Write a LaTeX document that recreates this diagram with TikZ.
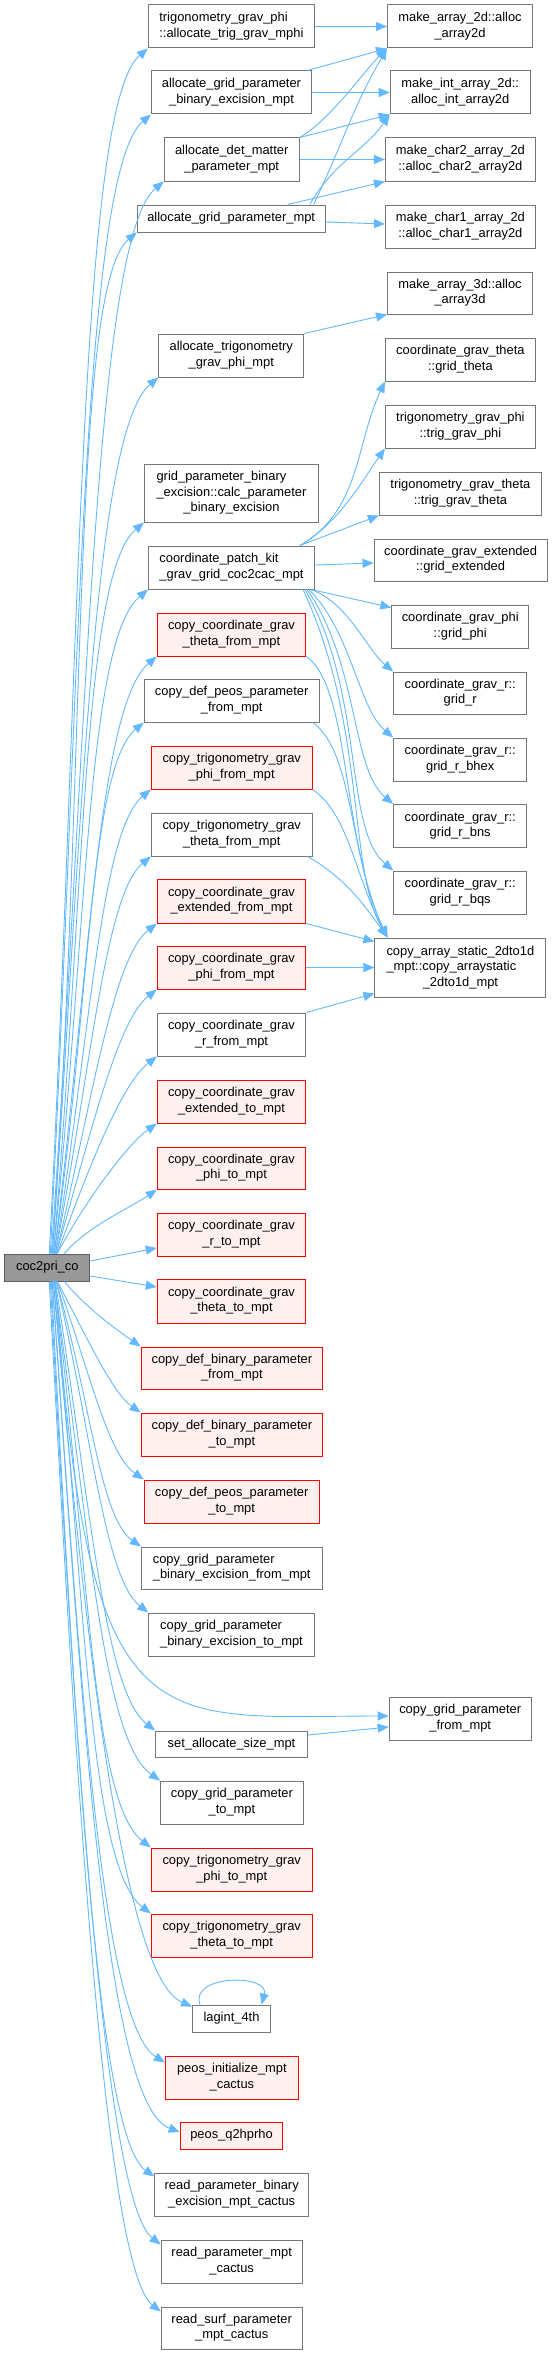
\documentclass[tikz,border=0pt]{standalone}
\usepackage{fontspec}
\setmainfont{Liberation Sans}
\usetikzlibrary{arrows.meta,calc}
\definecolor{edgeblue}{HTML}{63B8FF}
\definecolor{nodeborder}{HTML}{777777}
\definecolor{redfill}{HTML}{FFF0F0}
\definecolor{redborder}{HTML}{FF0000}
\definecolor{rootfill}{HTML}{999999}
\newcommand\lnA[2]{\begin{tabular}{@{}l@{}}#1\\\multicolumn{1}{@{}c@{}}{#2}\end{tabular}}
\newcommand\lnB[3]{\begin{tabular}{@{}l@{}}#1\\#2\\\multicolumn{1}{@{}c@{}}{#3}\end{tabular}}
% curved connector: start, out angle, out distance, end, in angle, in distance
\newcommand\edgecurve[6]{\draw[edge] (#1) .. controls ($(#1)+(#2:#3)$) and ($(#4)+(#5:#6)$) .. (#4);}
\tikzset{
  box/.style={draw=nodeborder, fill=white, line width=1pt, inner sep=0pt,
    font=\fontsize{12.9}{15.5}\selectfont},
  redbox/.style={box, draw=redborder, fill=redfill},
  rootbox/.style={box, draw=nodeborder!80!black, fill=rootfill},
  edge/.style={draw=edgeblue, line width=0.9pt, -{Triangle[length=11pt,width=9pt]}},
}
\begin{document}
\begin{tikzpicture}[x=1pt,y=1pt]
\useasboundingbox (0,0) rectangle (553,-2355);
% root
\node[rootbox, minimum width=85pt, minimum height=27pt] (root) at (47.3,-1267.5) {coc2pri\_co};
% right column
\node[box, minimum width=145pt, minimum height=43pt] (aa2d) at (460,-26.5) {\lnA{make\_array\_2d::alloc}{\_array2d}};
\node[box, minimum width=140pt, minimum height=43pt] (ai2d) at (460.2,-92.5) {\lnA{make\_int\_array\_2d::}{alloc\_int\_array2d}};
\node[box, minimum width=150pt, minimum height=43pt] (ac2d) at (460.4,-159.5) {\lnA{make\_char2\_array\_2d}{::alloc\_char2\_array2d}};
\node[box, minimum width=150pt, minimum height=43pt] (ac1d) at (460.4,-226.5) {\lnA{make\_char1\_array\_2d}{::alloc\_char1\_array2d}};
\node[box, minimum width=145pt, minimum height=42pt] (aa3d) at (460,-293) {\lnA{make\_array\_3d::alloc}{\_array3d}};
\node[box, minimum width=150pt, minimum height=43pt] (gth) at (460.4,-359.5) {\lnA{coordinate\_grav\_theta}{::grid\_theta}};
\node[box, minimum width=150pt, minimum height=43pt] (tgp) at (460.4,-426.5) {\lnA{trigonometry\_grav\_phi}{::trig\_grav\_phi}};
\node[box, minimum width=162pt, minimum height=43pt] (tgt) at (460.4,-493.5) {\lnA{trigonometry\_grav\_theta}{::trig\_grav\_theta}};
\node[box, minimum width=173pt, minimum height=42pt] (gext) at (460.6,-560) {\lnA{coordinate\_grav\_extended}{::grid\_extended}};
\node[box, minimum width=137pt, minimum height=43pt] (gphi) at (460.2,-626.5) {\lnA{coordinate\_grav\_phi}{::grid\_phi}};
\node[box, minimum width=133pt, minimum height=42pt] (gr) at (460.2,-693) {\lnA{coordinate\_grav\_r::}{grid\_r}};
\node[box, minimum width=133pt, minimum height=43pt] (grbhex) at (460.2,-759.5) {\lnA{coordinate\_grav\_r::}{grid\_r\_bhex}};
\node[box, minimum width=133pt, minimum height=43pt] (grbns) at (460.2,-826) {\lnA{coordinate\_grav\_r::}{grid\_r\_bns}};
\node[box, minimum width=133pt, minimum height=43pt] (grbqs) at (460.2,-892.5) {\lnA{coordinate\_grav\_r::}{grid\_r\_bqs}};
\node[box, minimum width=171pt, minimum height=59pt] (cas) at (460.4,-967.5) {\lnB{copy\_array\_static\_2dto1d}{\_mpt::copy\_arraystatic}{\_2dto1d\_mpt}};
\node[box, minimum width=142pt, minimum height=43pt] (cgpf) at (460.2,-1718.5) {\lnA{copy\_grid\_parameter}{\_from\_mpt}};
% middle column
\node[box, minimum width=166pt, minimum height=43pt] (atgm) at (231.4,-26.5) {\lnA{trigonometry\_grav\_phi}{::allocate\_trig\_grav\_mphi}};
\node[box, minimum width=160pt, minimum height=43pt] (agpbe) at (231.5,-92.5) {\lnA{allocate\_grid\_parameter}{\_binary\_excision\_mpt}};
\node[box, minimum width=135pt, minimum height=43pt] (admp) at (231.7,-159.5) {\lnA{allocate\_det\_matter}{\_parameter\_mpt}};
\node[box, minimum width=188pt, minimum height=27pt] (agpm) at (231.2,-218.5) {allocate\_grid\_parameter\_mpt};
\node[box, minimum width=145pt, minimum height=43pt] (atgpm) at (231.3,-355.5) {\lnA{allocate\_trigonometry}{\_grav\_phi\_mpt}};
\node[box, minimum width=174pt, minimum height=58pt] (calc) at (231.5,-493) {\lnB{grid\_parameter\_binary}{\_excision::calc\_parameter}{\_binary\_excision}};
\node[box, minimum width=166pt, minimum height=43pt] (cpk) at (231.5,-567.5) {\lnA{coordinate\_patch\_kit}{\_grav\_grid\_coc2cac\_mpt}};
\node[redbox, minimum width=148.5pt, minimum height=43pt] (ccgtf) at (231.5,-634.5) {\lnA{copy\_coordinate\_grav}{\_theta\_from\_mpt}};
\node[box, minimum width=175pt, minimum height=43pt] (cdppf) at (231.7,-700.5) {\lnA{copy\_def\_peos\_parameter}{\_from\_mpt}};
\node[redbox, minimum width=161pt, minimum height=43pt] (ctgpf) at (231.7,-767.5) {\lnA{copy\_trigonometry\_grav}{\_phi\_from\_mpt}};
\node[box, minimum width=161pt, minimum height=43pt] (ctgtf) at (231.7,-834.5) {\lnA{copy\_trigonometry\_grav}{\_theta\_from\_mpt}};
\node[redbox, minimum width=148.5pt, minimum height=44pt] (ccgef) at (231.5,-901) {\lnA{copy\_coordinate\_grav}{\_extended\_from\_mpt}};
\node[redbox, minimum width=148.5pt, minimum height=43pt] (ccgpf) at (231.5,-967.5) {\lnA{copy\_coordinate\_grav}{\_phi\_from\_mpt}};
\node[box, minimum width=148.5pt, minimum height=43pt] (ccgrf) at (231.5,-1034.5) {\lnA{copy\_coordinate\_grav}{\_r\_from\_mpt}};
\node[redbox, minimum width=148.5pt, minimum height=43pt] (ccget) at (231.5,-1101.5) {\lnA{copy\_coordinate\_grav}{\_extended\_to\_mpt}};
\node[redbox, minimum width=148.5pt, minimum height=42pt] (ccgpt) at (231.5,-1168) {\lnA{copy\_coordinate\_grav}{\_phi\_to\_mpt}};
\node[redbox, minimum width=148.5pt, minimum height=43pt] (ccgrt) at (231.5,-1234.5) {\lnA{copy\_coordinate\_grav}{\_r\_to\_mpt}};
\node[redbox, minimum width=148.5pt, minimum height=44pt] (ccgtht) at (231.5,-1301) {\lnA{copy\_coordinate\_grav}{\_theta\_to\_mpt}};
\node[redbox, minimum width=181.6pt, minimum height=42pt] (cdbpf) at (231.9,-1368) {\lnA{copy\_def\_binary\_parameter}{\_from\_mpt}};
\node[redbox, minimum width=181.6pt, minimum height=43pt] (cdbpt) at (231.9,-1434.5) {\lnA{copy\_def\_binary\_parameter}{\_to\_mpt}};
\node[redbox, minimum width=175pt, minimum height=43pt] (cdppt) at (231.7,-1501.5) {\lnA{copy\_def\_peos\_parameter}{\_to\_mpt}};
\node[box, minimum width=180.6pt, minimum height=42pt] (cgpbef) at (231.7,-1568) {\lnA{copy\_grid\_parameter}{\_binary\_excision\_from\_mpt}};
\node[box, minimum width=165.4pt, minimum height=43pt] (cgpbet) at (231.5,-1634.5) {\lnA{copy\_grid\_parameter}{\_binary\_excision\_to\_mpt}};
\node[box, minimum width=152pt, minimum height=26pt] (sasm) at (231.5,-1744) {set\_allocate\_size\_mpt};
\node[box, minimum width=142.8pt, minimum height=43pt] (cgpt) at (231.9,-1802.5) {\lnA{copy\_grid\_parameter}{\_to\_mpt}};
\node[redbox, minimum width=161pt, minimum height=43pt] (ctgpt) at (231.7,-1869.5) {\lnA{copy\_trigonometry\_grav}{\_phi\_to\_mpt}};
\node[redbox, minimum width=161pt, minimum height=43pt] (ctgtt) at (231.7,-1935.5) {\lnA{copy\_trigonometry\_grav}{\_theta\_to\_mpt}};
\node[box, minimum width=78pt, minimum height=27pt] (lagint) at (231.5,-2018.5) {lagint\_4th};
\node[redbox, minimum width=133pt, minimum height=43pt] (peosinit) at (231.9,-2077.5) {\lnA{peos\_initialize\_mpt}{\_cactus}};
\node[redbox, minimum width=102.6pt, minimum height=27pt] (q2h) at (231.5,-2135.5) {peos\_q2hprho};
\node[box, minimum width=153.8pt, minimum height=43pt] (rpbemc) at (231.7,-2194.5) {\lnA{read\_parameter\_binary}{\_excision\_mpt\_cactus}};
\node[box, minimum width=141pt, minimum height=43pt] (rpmc) at (231.7,-2261.5) {\lnA{read\_parameter\_mpt}{\_cactus}};
\node[box, minimum width=141pt, minimum height=42pt] (rspmc) at (231.7,-2328) {\lnA{read\_surf\_parameter}{\_mpt\_cactus}};

% edges from root, upward
\edgecurve{[xshift=2pt]root.north}{87}{600}{atgm.south west}{220}{90}
\edgecurve{[xshift=3pt]root.north}{87}{560}{agpbe.south west}{220}{90}
\edgecurve{[xshift=4pt]root.north}{86}{520}{admp.south west}{220}{90}
\edgecurve{[xshift=5pt]root.north}{86}{500}{agpm.south west}{220}{85}
\edgecurve{[xshift=5pt]root.north}{86}{430}{atgpm.south west}{220}{85}
\edgecurve{[xshift=6pt]root.north}{85}{360}{calc.south west}{220}{80}
\edgecurve{[xshift=6pt]root.north}{84}{330}{cpk.south west}{220}{80}
\edgecurve{[xshift=7pt]root.north}{83}{290}{ccgtf.south west}{220}{75}
\edgecurve{[xshift=7pt]root.north}{82}{260}{cdppf.south west}{220}{70}
\edgecurve{[xshift=8pt]root.north}{81}{225}{ctgpf.south west}{220}{65}
\edgecurve{[xshift=8pt]root.north}{79}{190}{ctgtf.south west}{220}{60}
\edgecurve{[xshift=9pt]root.north}{77}{160}{ccgef.south west}{218}{55}
\edgecurve{[xshift=9pt]root.north}{74}{125}{ccgpf.south west}{218}{50}
\edgecurve{[xshift=10pt]root.north}{70}{90}{ccgrf.south west}{218}{45}
\edgecurve{[xshift=10pt]root.north}{62}{60}{ccget.south west}{215}{35}
\edgecurve{[xshift=-26pt]root.north east}{50}{35}{ccgpt.south west}{215}{30}
\draw[edge] ([yshift=6.5pt]root.east) -- ([yshift=-13.5pt]ccgrt.west);
\draw[edge] ([yshift=-8.5pt]root.east) -- ([yshift=14pt]ccgtht.west);
% edges from root, downward
\edgecurve{[xshift=-26pt]root.south east}{-50}{35}{cdbpf.north west}{145}{30}
\edgecurve{[xshift=10pt]root.south}{-62}{60}{cdbpt.north west}{145}{35}
\edgecurve{[xshift=10pt]root.south}{-70}{90}{cdppt.north west}{145}{45}
\edgecurve{[xshift=9pt]root.south}{-74}{125}{cgpbef.north west}{145}{50}
\edgecurve{[xshift=9pt]root.south}{-77}{160}{cgpbet.north west}{142}{55}
\edgecurve{[xshift=8pt]root.south}{-86}{470}{[yshift=2.5pt]cgpf.west}{180}{239}
\edgecurve{[xshift=8pt]root.south}{-81}{220}{sasm.north west}{142}{65}
\edgecurve{[xshift=7pt]root.south}{-82}{250}{cgpt.north west}{145}{70}
\edgecurve{[xshift=7pt]root.south}{-83}{280}{ctgpt.north west}{142}{75}
\edgecurve{[xshift=6pt]root.south}{-84}{310}{ctgtt.north west}{142}{80}
\edgecurve{[xshift=6pt]root.south}{-85}{360}{[yshift=-2pt]lagint.north west}{157}{75}
\edgecurve{[xshift=5pt]root.south}{-86}{390}{[yshift=-7pt]peosinit.north west}{148}{75}
\edgecurve{[xshift=5pt]root.south}{-86}{420}{[yshift=3.5pt]q2h.west}{160}{80}
\edgecurve{[xshift=4pt]root.south}{-87}{450}{[yshift=-4pt]rpbemc.north west}{145}{70}
\edgecurve{[xshift=3pt]root.south}{-87}{480}{[yshift=-5pt]rpmc.north west}{142}{70}
\edgecurve{[xshift=2pt]root.south}{-87}{510}{[yshift=-5pt]rspmc.north west}{142}{70}

% middle to right
\draw[edge] (atgm.east) -- (aa2d.west);
\draw[edge] ([xshift=-4.6pt]agpbe.north east) -- (aa2d.south west);
\draw[edge] (agpbe.east) -- (ai2d.west);
\edgecurve{admp.north east}{30}{35}{aa2d.south west}{225}{35}
\draw[edge] (admp.north east) -- (ai2d.south west);
\draw[edge] (admp.east) -- (ac2d.west);
\edgecurve{[xshift=-12pt]agpm.north east}{65}{80}{aa2d.south west}{240}{70}
\edgecurve{[xshift=-16pt]agpm.north east}{60}{50}{ai2d.south west}{235}{45}
\draw[edge] ([xshift=-38pt]agpm.north east) -- (ac2d.south west);
\draw[edge] ([yshift=-3.5pt]agpm.east) -- ([yshift=2.5pt]ac1d.west);
\draw[edge] (atgpm.north east) -- (aa3d.south west);
\edgecurve{[xshift=-15pt]cpk.north east}{30}{70}{gth.south west}{245}{70}
\edgecurve{[xshift=-15pt]cpk.north east}{30}{45}{tgp.south west}{235}{40}
\draw[edge] ([xshift=-15pt]cpk.north east) -- (tgt.south west);
\draw[edge] ([yshift=2.5pt]cpk.east) -- ([yshift=-3pt]gext.west);
\draw[edge] ([xshift=-4pt]cpk.south east) -- ([yshift=-3pt]gphi.north west);
\edgecurve{[xshift=-4pt]cpk.south east}{-20}{40}{gr.north west}{140}{35}
\edgecurve{[xshift=-6pt]cpk.south east}{-45}{60}{grbhex.north west}{140}{45}
\edgecurve{[xshift=-8pt]cpk.south east}{-55}{90}{grbns.north west}{140}{55}
\edgecurve{[xshift=-10pt]cpk.south east}{-60}{120}{grbqs.north west}{140}{65}
\edgecurve{[xshift=-12pt]cpk.south east}{-65}{150}{[xshift=13pt]cas.north west}{120}{80}
\edgecurve{ccgtf.south east}{-35}{55}{[xshift=13pt]cas.north west}{115}{110}
\edgecurve{[xshift=-7pt]cdppf.south east}{-35}{50}{[xshift=13pt]cas.north west}{115}{90}
\edgecurve{ctgpf.south east}{-35}{45}{[xshift=13pt]cas.north west}{118}{70}
\edgecurve{[xshift=-5pt]ctgtf.south east}{-30}{40}{[xshift=13pt]cas.north west}{125}{45}
\draw[edge] (ccgef.south east) -- ([yshift=-4pt]cas.north west);
\draw[edge] (ccgpf.east) -- (cas.west);
\draw[edge] (ccgrf.north east) -- ([yshift=4pt]cas.south west);
\draw[edge] ([yshift=9pt]sasm.east) -- ([yshift=-8.5pt]cgpf.west);
\edgecurve{[xshift=8pt]lagint.north west}{110}{32}{[xshift=-9.5pt]lagint.north east}{75}{32}
\end{tikzpicture}
\end{document}
